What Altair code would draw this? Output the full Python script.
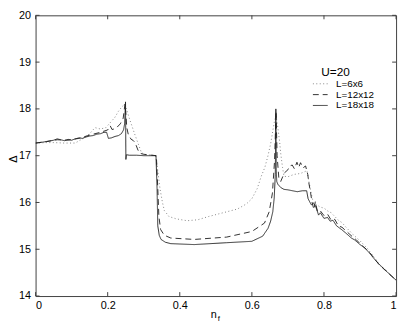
import altair as alt
import pandas as pd

# ---------------- data ----------------
x_6 = [0.0, 0.03, 0.05, 0.08, 0.11, 0.13, 0.15, 0.165, 0.18, 0.195, 0.211, 0.22, 0.23, 0.24, 0.247,
       0.25, 0.26, 0.275, 0.293, 0.3, 0.333, 0.338, 0.345, 0.352, 0.357, 0.37, 0.39, 0.42, 0.45,
       0.48, 0.53, 0.56, 0.585, 0.6, 0.615, 0.626, 0.636, 0.644, 0.652, 0.658, 0.663, 0.667,
       0.672, 0.677, 0.68, 0.685, 0.689, 0.7, 0.717, 0.735, 0.753, 0.757, 0.762, 0.77, 0.78,
       0.79, 0.8, 0.81, 0.82, 0.83, 0.84, 0.85, 0.86, 0.87, 0.88, 0.89, 0.9, 0.91, 0.92, 0.93,
       0.94, 0.95, 0.96, 0.97, 0.98, 0.99, 1.0]
y_6 = [17.27, 17.28, 17.28, 17.27, 17.27, 17.36, 17.47, 17.6, 17.57, 17.6, 17.74, 17.82, 17.95, 18.05, 18.1,
       18.05, 17.8, 17.46, 17.08, 17.03, 17.0, 16.74, 16.3, 16.0, 15.83, 15.7, 15.65, 15.61, 15.63,
       15.7, 15.8, 15.86, 15.97, 16.08, 16.3, 16.56, 16.75, 16.98, 17.25, 17.53, 17.75, 17.85,
       17.6, 17.3, 17.05, 16.75, 16.56, 16.55, 16.6, 16.62, 16.68, 16.5, 16.3, 16.0, 15.95,
       15.9, 15.88, 15.82, 15.78, 15.7, 15.62, 15.57, 15.48, 15.4, 15.32, 15.25, 15.18, 15.1, 15.02, 14.92,
       14.82, 14.72, 14.63, 14.56, 14.48, 14.41, 14.34]

x_12 = [0.0, 0.03, 0.06, 0.09, 0.12, 0.15, 0.18, 0.2, 0.207, 0.212, 0.217, 0.225, 0.235, 0.243, 0.248,
        0.2505, 0.253, 0.257, 0.265, 0.27, 0.276, 0.284, 0.29, 0.3, 0.335, 0.339, 0.342, 0.347,
        0.357, 0.375, 0.44, 0.53, 0.6, 0.635, 0.648, 0.657, 0.663, 0.667, 0.67, 0.675, 0.68, 0.69,
        0.7, 0.705, 0.712, 0.718, 0.725, 0.73, 0.735, 0.742, 0.749, 0.755, 0.758, 0.763, 0.767,
        0.772, 0.776, 0.782, 0.79, 0.8, 0.81, 0.82, 0.83, 0.84, 0.85, 0.86, 0.87, 0.88, 0.89, 0.9,
        0.91, 0.92, 0.93, 0.94, 0.95, 0.96, 0.97, 0.98, 0.99, 1.0]
y_12 = [17.27, 17.3, 17.34, 17.33, 17.37, 17.44, 17.5, 17.55, 17.64, 17.56, 17.57, 17.6, 17.68, 17.8, 18.1,
        17.9, 17.6, 17.46, 17.35, 17.33, 17.28, 17.12, 17.05, 17.03, 17.0, 16.3, 15.7, 15.42,
        15.3, 15.24, 15.21, 15.26, 15.38, 15.56, 15.8, 16.2, 16.9, 17.95, 17.0, 16.5, 16.45, 16.63,
        16.7, 16.78, 16.8, 16.72, 16.86, 16.75, 16.85, 16.74, 16.78, 16.6, 16.42, 16.2, 16.0,
        15.85, 16.02, 15.8, 15.82, 15.72, 15.75, 15.62, 15.64, 15.5, 15.47, 15.4, 15.33, 15.26, 15.2, 15.12,
        15.05, 14.98, 14.9, 14.8, 14.7, 14.62, 14.55, 14.48, 14.41, 14.34]

x_18 = [0.0, 0.02, 0.035, 0.05, 0.06, 0.07, 0.08, 0.09, 0.1, 0.11, 0.12, 0.13, 0.14, 0.15, 0.16, 0.17,
        0.18, 0.19, 0.197, 0.202, 0.21, 0.22, 0.23, 0.238, 0.244, 0.247, 0.2495, 0.2505, 0.252,
        0.26, 0.28, 0.3, 0.32, 0.334, 0.337, 0.339, 0.343, 0.348, 0.36, 0.375, 0.44, 0.53, 0.6,
        0.63, 0.645, 0.652, 0.658, 0.662, 0.665, 0.6665, 0.6675, 0.669, 0.672, 0.68, 0.689, 0.7,
        0.726, 0.74, 0.752, 0.756, 0.76, 0.765, 0.77, 0.775, 0.78, 0.785, 0.79, 0.8, 0.81, 0.817,
        0.825, 0.835, 0.849, 0.86, 0.876, 0.885, 0.9, 0.913, 0.925, 0.94, 0.955, 0.967, 0.98,
        0.99, 1.0]
y_18 = [17.27, 17.29, 17.31, 17.33, 17.36, 17.34, 17.32, 17.35, 17.33, 17.36, 17.38, 17.37, 17.4, 17.42, 17.43, 17.46,
        17.47, 17.5, 17.5, 17.37, 17.38, 17.41, 17.43, 17.47, 17.55, 17.68, 18.15, 16.92, 17.02,
        17.01, 17.01, 17.0, 17.0, 17.0, 16.3, 15.5, 15.3, 15.21, 15.15, 15.12, 15.1, 15.14, 15.17,
        15.28, 15.45, 15.6, 15.8, 16.1, 16.6, 18.0, 16.7, 16.45, 16.39, 16.32, 16.28, 16.27,
        16.23, 16.25, 16.25, 16.08, 16.02, 15.95, 15.98, 15.95, 15.85, 15.73, 15.78, 15.66, 15.68, 15.6,
        15.62, 15.5, 15.42, 15.35, 15.24, 15.2, 15.1, 15.03, 14.93, 14.79, 14.66, 14.58, 14.48,
        14.41, 14.34]

series_names = ["L=6x6", "L=12x12", "L=18x18"]
x_ticks = [0, 0.2, 0.4, 0.6, 0.8, 1.0]
y_ticks = [14, 15, 16, 17, 18, 19, 20]
x_domain = [0, 1]
y_domain = [14, 20]

frames = []
for name, xs, ys in zip(series_names, [x_6, x_12, x_18], [y_6, y_12, y_18]):
    assert len(xs) == len(ys), name
    frames.append(pd.DataFrame({"nf": xs, "delta": ys, "series": name,
                                "order": range(len(xs))}))
df = pd.concat(frames, ignore_index=True)

W, H = 366, 285
PAD_L, PAD_T, PAD_R, PAD_B = 28, 5, 5, 30
FONT = "Liberation Sans"
AXC = "#404040"
LINE = "#1a1a1a"

xs_ = alt.Scale(domain=x_domain, nice=False, zero=False)
ys_ = alt.Scale(domain=y_domain, nice=False, zero=False)

legend = alt.Legend(title=None, orient="none", legendX=281, legendY=64,
                    symbolType="stroke", symbolSize=225, symbolStrokeWidth=0.9,
                    labelFont=FONT, labelFontSize=10, labelColor="black",
                    labelOffset=8, clipHeight=11, rowPadding=0, padding=0)

lines = alt.Chart(df).mark_line(strokeWidth=0.9, clip=True).encode(
    x=alt.X("nf:Q", scale=xs_,
            axis=alt.Axis(values=x_ticks, format="~g", title=None, tickSize=0,
                          labelPadding=4, grid=False, domain=False,
                          labelFont=FONT, labelFontSize=11, labelColor="black")),
    y=alt.Y("delta:Q", scale=ys_,
            axis=alt.Axis(values=y_ticks, format="d", title=None, tickSize=0,
                          labelPadding=5, grid=False, domain=False,
                          labelFont=FONT, labelFontSize=11, labelColor="black")),
    strokeDash=alt.StrokeDash("series:N",
                              scale=alt.Scale(domain=series_names,
                                              range=[[1, 2.5], [6, 4], [1, 0]]),
                              legend=legend),
    color=alt.Color("series:N",
                    scale=alt.Scale(domain=series_names, range=["#777777", LINE, LINE]),
                    legend=legend),
    order="order:Q",
)

# inward tick marks (MATLAB style), positioned through the scales
tick_len_y = 4 * (y_domain[1] - y_domain[0]) / H
tick_len_x = 4 * (x_domain[1] - x_domain[0]) / W
xt = pd.DataFrame({"v": x_ticks})
yt = pd.DataFrame({"v": y_ticks})
xt_bot = xt.assign(a=y_domain[0], b=y_domain[0] + tick_len_y)
xt_top = xt.assign(a=y_domain[1] - tick_len_y, b=y_domain[1])
yt_l = yt.assign(a=x_domain[0], b=x_domain[0] + tick_len_x)
yt_r = yt.assign(a=x_domain[1] - tick_len_x, b=x_domain[1])

def xtick(d):
    return alt.Chart(d).mark_rule(color=AXC, strokeWidth=1).encode(
        x=alt.X("v:Q", scale=xs_), y=alt.Y("a:Q", scale=ys_), y2="b:Q")

def ytick(d):
    return alt.Chart(d).mark_rule(color=AXC, strokeWidth=1).encode(
        y=alt.Y("v:Q", scale=ys_), x=alt.X("a:Q", scale=xs_), x2="b:Q")

u_label = alt.Chart(pd.DataFrame({"t": ["U=20"]})).mark_text(
    font=FONT, fontSize=12, align="left", baseline="middle", color="black"
).encode(text="t:N", x=alt.value(290), y=alt.value(58))

delta_label = alt.Chart(pd.DataFrame({"t": ["Δ"]})).mark_text(
    font=FONT, fontSize=11, align="center", baseline="middle", color="black", angle=270
).encode(text="t:N", x=alt.value(-22), y=alt.value(146))

n_label = alt.Chart(pd.DataFrame({"t": ["n"]})).mark_text(
    font=FONT, fontSize=11, align="center", baseline="alphabetic", color="black"
).encode(text="t:N", x=alt.value(181), y=alt.value(307))
f_label = alt.Chart(pd.DataFrame({"t": ["f"]})).mark_text(
    font=FONT, fontSize=8, align="left", baseline="alphabetic", color="black"
).encode(text="t:N", x=alt.value(185), y=alt.value(310))

chart = alt.layer(
    lines, xtick(xt_bot), xtick(xt_top), ytick(yt_l), ytick(yt_r),
    u_label, delta_label, n_label, f_label
).properties(
    width=W, height=H,
    autosize=alt.AutoSizeParams(type="none"),
    padding={"left": PAD_L, "top": PAD_T, "right": PAD_R, "bottom": PAD_B},
    background="white",
).configure_view(
    stroke=AXC, strokeWidth=1
)

chart.save("out.html", embed_options={"renderer": "svg", "actions": False})
